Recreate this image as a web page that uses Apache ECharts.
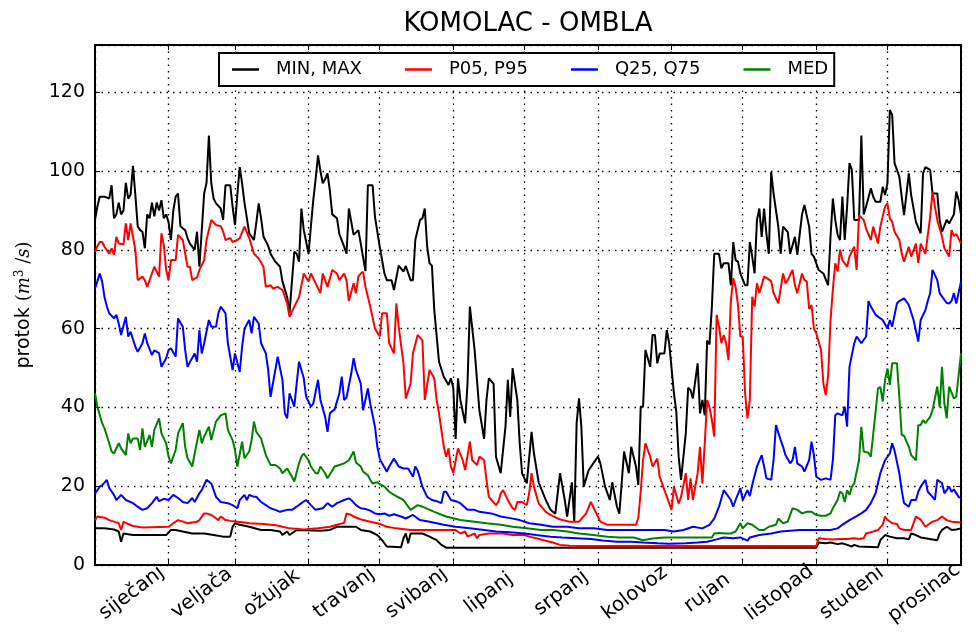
<!DOCTYPE html>
<html>
<head>
<meta charset="utf-8">
<title>KOMOLAC - OMBLA</title>
<script src="https://cdn.jsdelivr.net/npm/echarts@6/dist/echarts.min.js"></script>
<style>
  html, body { margin: 0; padding: 0; background: #fff; }
  #chart { width: 976px; height: 636px; }
</style>
</head>
<body>
<div id="chart"></div>
<script>
// Daily discharge statistics, [day of year, m3/s]
const maxFlow = [[0,87.6],[1,91],[2,93.5],[4,93.5],[6,93],[7,96.4],[8,88],[9,89],[10,92],[11,89],[12,90],[13,97],[14,93],[15,94],[16,101.3],[17,94],[18,86],[19,85],[20,84.6],[21,80.4],[22,89],[23,88],[24,92],[25,88.5],[26,92],[27,90],[28,92.6],[29,88],[30,89],[31,87],[32,82.5],[33,90],[34,93.5],[35,94.3],[36,86],[38,85],[39,83],[40,81.6],[42,80],[43,84.6],[44,75.7],[45,85],[46,94.3],[47,97],[48,109],[49,96.9],[50,93],[51,91.8],[53,90.5],[54,87.6],[55,96.4],[57,96.4],[58,91],[59,86.3],[60,94],[61,101],[62,96.9],[63,92],[65,84.2],[67,82.5],[68,87],[69,91.8],[70,88],[71,83.4],[73,81],[74,79],[76,77],[78,75.7],[79,72],[81,68],[82,64],[83,72],[84,79.5],[85,79],[86,77],[87,90.5],[88,85],[90,79],[91,86],[92,92.6],[93,98],[94,104],[95,100],[96,96.9],[97,98],[98,99.4],[99,95],[100,89],[102,88],[103,84],[105,80.8],[106,79],[107,90.5],[109,83.8],[111,85],[112,81.6],[114,74.6],[115,96.4],[117,96.4],[118,88.4],[120,80.8],[122,74],[123,72.3],[125,72.3],[126,69.8],[128,76],[130,74.5],[131,75.9],[133,72.3],[134,72.3],[135,82.5],[137,87.6],[138,88],[139,90.5],[140,80.8],[141,76.6],[142,76],[143,64.7],[145,51.6],[147,47.8],[149,45.7],[150,47.4],[151,45],[152,32],[153,47.4],[154,41.9],[156,36],[157,46],[158,65.6],[160,54.6],[162,39.3],[164,32],[165,41.9],[166,47.4],[168,46],[169,27.5],[171,23.3],[173,35.1],[174,47],[175,37.6],[176,50],[178,41.9],[179,30.9],[180,23.3],[182,20.7],[184,33.8],[185,28.3],[187,21],[190,16.5],[192,14],[194,13],[196,23.3],[198,16.5],[199,12.3],[201,21],[202,11],[203,36],[204,42.3],[205,35],[206,19.9],[208,24],[210,25.8],[212,27.5],[213,25.8],[215,19.9],[217,16.5],[218,21],[220,14.8],[221,13],[223,28.8],[225,23.3],[226,30],[228,25],[229,20.3],[230,40.2],[231,40.2],[232,54.6],[234,50.3],[235,58.4],[236,58.4],[237,51.2],[238,53.7],[240,53.7],[241,59.6],[242,56.3],[244,43.6],[245,39],[246,27.5],[247,21.6],[249,33.4],[250,45],[251,44.4],[252,42.3],[254,51.2],[255,38.5],[256,41.9],[257,38],[258,57],[259,56],[260,65.6],[261,79],[263,79],[264,75.3],[265,76.6],[267,76.6],[268,71],[269,82],[270,77.4],[271,77],[272,74],[274,71],[275,71],[276,82],[277,78.3],[278,74],[279,87.6],[280,90.5],[281,83.3],[282,90.5],[283,84],[284,79],[285,99.8],[286,94.3],[288,85.9],[289,79],[290,85.9],[292,84.5],[293,79],[295,83.3],[296,78.7],[298,89],[299,91.4],[301,85.9],[302,79],[303,78.3],[305,74.9],[307,74],[309,71],[310,83.3],[311,93],[312,87.6],[313,83.8],[314,82.5],[315,93.5],[316,82.5],[317,91],[318,102],[319,100.3],[320,87.6],[322,87.6],[323,109],[324,89],[325,91],[327,95.6],[328,93.5],[329,92.2],[331,92.2],[332,96],[333,93.9],[334,96.9],[335,115.5],[336,114.2],[337,102],[339,98.6],[340,93.5],[341,88.8],[343,99.4],[344,93.9],[346,87.1],[348,84.2],[349,99.4],[350,101],[352,100.3],[353,94.3],[355,94.3],[356,87.6],[357,84.6],[359,87.6],[360,86.7],[362,89],[363,94.8],[364,92.6],[365,89]];

const p95Flow = [[0,79.5],[1,81],[2,82],[3,82],[4,80.8],[6,79],[7,80.4],[8,78.7],[9,83.3],[10,81.6],[12,81.4],[13,86.7],[14,82.5],[15,86.7],[17,80],[18,72.3],[20,73.2],[21,72.3],[22,70.6],[24,74],[25,75.7],[27,73.2],[28,84.2],[29,81.2],[30,74.9],[31,72.3],[32,77.4],[34,77.4],[35,83.8],[37,82.5],[39,75.7],[40,75.7],[41,72.3],[43,73],[44,74.9],[46,77.4],[47,82.5],[49,87.6],[51,86.3],[53,86],[54,84.6],[55,82.5],[57,83],[58,82],[60,82.5],[61,83],[63,85.9],[65,83],[67,79],[69,77.8],[71,75.7],[72,70.6],[74,71],[75,70.2],[77,70.6],[79,69.8],[81,66.4],[82,63],[84,65.6],[86,68],[88,74],[90,72],[91,74],[93,71.5],[95,69],[96,74],[98,70.6],[100,74.9],[102,74],[103,72.3],[105,74],[106,72.3],[107,67],[109,71.5],[110,69],[111,73.2],[112,74],[113,74.4],[114,70.6],[116,65.6],[118,60],[120,58],[121,63.9],[123,63.9],[124,56.3],[126,53.7],[127,66.4],[128,60.5],[130,51.2],[131,42.3],[133,46],[134,53.7],[136,58.4],[138,57],[139,41.9],[141,49.5],[143,47.4],[144,41.9],[145,38.5],[147,30],[148,27.5],[149,29.6],[150,25],[151,23.3],[153,29.6],[155,26.6],[156,24.1],[158,31.3],[159,26.6],[161,25.4],[162,27.5],[164,26.6],[165,21.6],[166,17.3],[169,15.2],[170,16],[171,18.2],[172,19],[174,16.5],[176,14.4],[177,14],[178,16],[180,16],[182,15.2],[183,18.2],[184,23.3],[185,19.9],[187,15.6],[190,13.5],[192,12.7],[195,11.8],[197,11.4],[200,11],[204,11],[207,13.1],[209,16],[211,13.5],[213,11],[216,10.2],[228,10.2],[229,12],[230,18.6],[231,26.6],[232,30.9],[234,27.5],[235,25],[237,27],[238,22.4],[240,19],[243,14],[244,19.9],[246,15.6],[247,17.3],[249,23.3],[250,16.5],[251,22],[252,16.5],[254,23.3],[255,30],[256,20.7],[257,30.9],[258,41.9],[259,40],[260,36.8],[261,32.6],[262,63.5],[263,60.5],[264,56.3],[265,58.4],[266,56.3],[267,52],[268,67],[269,72.8],[270,70.6],[271,66],[272,58],[273,58],[274,43.6],[275,37.2],[276,41.9],[277,68.1],[278,65.6],[279,71.5],[280,69],[282,73.2],[284,72.5],[285,72],[286,69],[288,66.4],[290,74],[291,71.5],[292,72.3],[294,74.9],[295,71],[296,69],[298,74],[299,72.3],[300,72],[301,65],[302,66],[303,60],[304,58.8],[306,54.6],[307,46],[308,43.1],[309,48],[310,62],[311,70],[312,76.6],[313,74.5],[314,80],[315,77.4],[317,75.7],[318,78.3],[320,80.8],[321,74.9],[322,88.8],[324,87.6],[325,85.4],[327,82.5],[328,85.9],[330,81.6],[331,85.9],[333,91],[334,91.8],[335,88],[336,87.1],[337,84.6],[339,82.5],[340,79.1],[341,77],[343,80.8],[344,78.3],[346,81.6],[347,76.6],[348,81.6],[350,79],[352,88.4],[353,94.8],[354,91],[355,87.6],[357,83.3],[358,80.4],[360,78.3],[361,85],[362,83.5],[363,84],[365,81.6]];

const q75Flow = [[0,70.2],[1,72],[2,74],[3,72],[4,68],[5,65.6],[6,63.9],[8,62.6],[9,63.5],[10,61.3],[11,58.4],[13,63],[14,58],[15,59.2],[17,55.4],[18,54.1],[20,56.3],[21,58.8],[22,56.3],[24,53.3],[25,54.5],[27,53.8],[28,50.3],[30,52.5],[31,54.6],[32,55],[34,52.9],[35,62.6],[37,60.5],[38,54.6],[39,50.3],[40,51.5],[42,53.7],[43,51.6],[44,59.6],[45,53.7],[46,56.3],[48,62.2],[49,60.5],[51,60.5],[52,63.9],[53,65.6],[55,63.9],[56,56.3],[58,49.5],[59,53.7],[61,49],[62,55.4],[63,60],[65,62.2],[66,58.8],[67,63],[69,61.3],[70,56.3],[72,53.7],[73,49.5],[74,42.7],[76,49.5],[77,52.9],[79,47],[80,38.5],[81,37.2],[82,43.6],[84,40.2],[85,46.1],[86,51.6],[88,47.4],[89,42.7],[91,40.2],[92,41],[94,47],[95,41.9],[97,37.6],[98,33.8],[99,38.5],[101,39.5],[103,43.6],[104,47.8],[105,41.9],[106,42.5],[108,48.6],[109,52.5],[110,49.5],[112,46.1],[113,39.3],[115,44.8],[116,41],[118,35.1],[119,30],[120,27],[121,25.8],[123,23.7],[124,25],[126,27],[128,25],[130,24.5],[132,24.5],[134,22.4],[135,25],[136,24],[138,19.9],[140,17.3],[142,16.5],[144,16.2],[146,15.7],[147,18.6],[148,18.6],[150,16.5],[152,16.2],[154,15.7],[157,14],[160,14],[162,13.5],[167,13.1],[171,12.3],[175,11.9],[179,11.4],[183,10.6],[188,10.2],[193,9.7],[199,9.7],[204,9.3],[210,9.3],[216,8.9],[240,8.9],[244,8.5],[248,8.9],[252,9.7],[256,9.3],[259,10.2],[261,11.8],[263,14.8],[265,19],[266,18.2],[268,16.5],[269,14.8],[270,16.5],[272,19.5],[273,16.5],[275,19],[276,17.5],[277,20.3],[279,25],[281,27.9],[282,25],[283,22],[285,21.6],[286,26.6],[287,35.5],[289,31.7],[290,30],[291,27.9],[293,25.8],[294,26.6],[295,30],[296,25.8],[298,25],[299,23.7],[301,26.6],[302,31.3],[303,27.9],[304,22.4],[306,21.6],[308,22],[310,21.6],[311,26.6],[312,38],[313,38.5],[315,38],[316,40.2],[317,35.1],[318,50.3],[320,56.3],[321,58],[323,56.3],[325,58],[326,67],[327,65.6],[329,63.5],[332,62.2],[334,60],[335,62.2],[336,60.5],[338,66.4],[339,67],[341,67.7],[343,66],[345,62.2],[347,56.7],[348,62.2],[350,64.7],[351,67],[352,69],[353,74.9],[355,72.3],[356,69],[358,67.3],[359,66.5],[360,66.4],[361,67],[362,69],[363,66.4],[365,71.9]];

const medFlow = [[0,43.6],[1,40.2],[3,36],[4,34.7],[6,30.9],[7,28.8],[8,28.3],[10,30.9],[11,29.6],[13,27.9],[14,33.4],[15,30.9],[16,32.1],[18,32.1],[19,29.2],[20,34.7],[21,30],[23,33],[24,30],[25,34.3],[27,37.2],[28,33.4],[30,30.9],[31,27.5],[32,25.8],[34,29.2],[35,33.4],[37,36],[38,30],[39,27.1],[41,25],[42,28.3],[44,34.3],[45,30.9],[46,32.6],[48,35.1],[49,31.7],[51,36.4],[52,37.2],[53,38],[55,38.5],[56,34.3],[58,31.7],[59,29.2],[60,25],[62,31.3],[63,27.1],[65,28.8],[66,31.7],[67,36.4],[68,33.8],[70,32.1],[71,30],[72,27.9],[74,25.4],[76,25.4],[78,24.5],[79,23.3],[81,24.5],[83,22.4],[84,21.2],[86,25.8],[87,27.5],[88,28.3],[90,26.6],[91,25],[93,23.3],[94,23.3],[95,25],[97,23.3],[98,22],[100,24],[101,25],[103,25.4],[105,25.8],[107,26.6],[109,28.8],[110,26],[112,25],[113,23.7],[115,22.8],[116,21.6],[117,20.7],[119,21],[120,20.5],[122,19.9],[124,18.6],[126,17.8],[130,16.5],[133,14],[136,15.2],[138,14.8],[143,13.5],[148,12.3],[154,11.4],[160,11],[165,10.6],[171,10.2],[176,9.7],[182,9.3],[188,8.9],[193,8.9],[199,8.5],[204,8],[210,7.6],[216,7.2],[221,7],[227,7],[231,6.3],[235,6.7],[240,7],[260,7],[261,8],[263,8.1],[266,8],[268,8],[270,8.5],[272,10.6],[273,9.3],[275,10.6],[277,10.2],[280,8.9],[282,8.9],[284,9.7],[287,10.2],[288,11.8],[290,10.6],[292,11],[294,14.4],[296,14],[298,13.1],[300,13.5],[302,13.5],[304,12.7],[306,12.5],[308,12.5],[310,13.1],[311,14.4],[313,16.5],[314,18.6],[315,18.2],[316,16],[317,19],[318,17.8],[319,19.9],[320,20.7],[322,26.6],[323,35.1],[324,28.8],[326,28.5],[327,27.5],[329,38.9],[330,44.8],[331,45.2],[332,41.5],[333,47],[334,49.9],[335,45.7],[336,51.2],[338,51.2],[339,42.7],[340,33],[341,32.8],[343,30],[344,27.9],[346,26.6],[347,35.5],[348,35.5],[349,36.8],[350,36],[352,37.6],[353,39.3],[355,45.3],[356,40],[357,50.3],[358,41],[359,37.2],[360,45.3],[362,42.3],[363,42.7],[365,53.7]];

const q25Flow = [[0,18.2],[1,19],[2,19.9],[3,20.2],[5,21.6],[6,19.5],[8,17.8],[9,16.5],[11,17.8],[13,16.5],[16,15.7],[18,14.8],[20,14],[22,14.4],[24,15.7],[26,17.3],[27,16.2],[29,16.8],[31,16.5],[33,17.8],[35,17],[37,16],[39,15.7],[41,17],[42,16],[44,18.2],[45,19],[47,21.6],[49,20.7],[50,19],[51,17.3],[53,16],[56,15.7],[58,15.2],[60,14.4],[61,16.5],[63,17.8],[64,16.5],[65,17.8],[67,17.3],[68,17.3],[70,16],[72,15.2],[74,14.4],[76,14],[78,13.5],[81,14],[83,14],[85,14.8],[87,15.7],[89,16.5],[91,15.2],[93,14],[96,14.4],[98,15.7],[100,14.8],[102,15.7],[105,16.5],[107,16.9],[108,16.5],[110,15.2],[112,14.4],[114,14.2],[116,13.8],[118,13.1],[120,12.9],[122,13.1],[124,12.5],[126,12.9],[129,12.3],[131,11.8],[134,12.7],[137,11.4],[141,11],[147,10.2],[152,9.7],[158,9.3],[164,8.9],[169,8.5],[175,8.3],[181,8],[186,7.6],[192,7.2],[197,7],[203,6.8],[209,6.6],[214,6.2],[220,5.9],[226,5.9],[231,5.7],[237,5.5],[242,5.4],[249,5.5],[254,5.7],[258,5.9],[262,6.5],[265,7],[269,6.8],[272,7],[275,6.2],[276,7],[280,7.6],[285,8],[289,8.5],[293,8.7],[297,8.9],[310,8.9],[313,9.3],[315,10.2],[318,11.4],[321,12.4],[323,13.1],[325,14],[327,15.7],[329,18.2],[331,23.3],[333,26.6],[335,28.3],[336,30.9],[337,29],[339,23.3],[340,19],[341,15.7],[343,14.8],[344,16.5],[346,16.5],[347,18.6],[348,19.9],[350,21.6],[351,18.6],[353,17.3],[354,16.5],[355,21.6],[357,20.8],[358,18.2],[360,19.9],[361,18.6],[362,19.2],[364,17.3],[365,17]];

const p05Flow = [[0,11.4],[1,12.3],[4,12],[6,11.4],[8,11],[10,10.6],[11,8.9],[12,11],[14,10.4],[16,9.9],[18,9.7],[20,9.5],[31,9.7],[34,11],[35,11.4],[37,11],[39,10.6],[43,11],[44,11.4],[46,13.1],[47,13.1],[49,12.7],[50,12.3],[52,11.4],[53,12.3],[55,11.4],[57,11.2],[60,11],[63,10.8],[65,10.6],[71,10.4],[74,10.2],[77,10],[79,9.7],[82,9.3],[88,9],[94,9.3],[99,9.7],[102,10.2],[105,10.7],[106,13.1],[108,12.7],[109,12.3],[111,11.8],[113,11.4],[116,11],[119,10.6],[121,10.2],[123,9.7],[127,9.3],[133,8.9],[152,8.9],[154,8],[156,8.5],[157,7.2],[160,8],[161,6.8],[162,7.6],[166,8],[172,8],[176,7.6],[181,7.6],[183,7.2],[186,6.8],[189,6.3],[193,5.7],[196,5.1],[200,4.9],[204,4.8],[304,4.8],[305,6.8],[308,6.6],[311,6.5],[314,6.6],[317,6.6],[320,6.8],[322,6.6],[324,6.8],[325,8],[328,8.5],[330,8.9],[332,10.2],[333,12.3],[334,11.5],[336,10.6],[338,10.4],[339,9.3],[341,8.9],[344,8.9],[345,10.6],[346,12.3],[348,11.5],[349,10.6],[350,9.7],[352,10.6],[353,11],[355,11.4],[357,12.3],[359,11.4],[361,11],[365,10.8]];

const minFlow = [[0,9.3],[4,9.3],[8,9],[10,8.5],[11,5.9],[12,8],[16,7.6],[30,7.6],[32,8.9],[34,8.9],[37,8.5],[41,8],[46,8],[50,7.6],[54,7.2],[57,7.2],[58,9.7],[59,10.6],[61,10.2],[65,9.7],[70,8.9],[74,8.9],[78,8.5],[79,7.6],[81,8.5],[82,7.6],[85,8.9],[95,8.7],[99,8.9],[102,9.7],[110,9.7],[112,8.9],[116,8.5],[119,7.6],[121,6.3],[123,4.7],[129,4.5],[130,6.8],[131,8],[132,5.5],[133,8],[138,8],[141,7.2],[144,6.3],[146,5.1],[148,4.4],[304,4.4],[305,5.7],[308,5.5],[310,5.7],[313,5.3],[315,5.5],[317,5.1],[319,4.7],[320,5.1],[322,4.7],[330,4.5],[331,6.3],[333,7.6],[335,7.2],[338,6.8],[341,6.8],[343,6.5],[344,8],[346,7.6],[348,7],[350,6.8],[353,6.5],[355,6.3],[356,8],[357,8.9],[359,9.7],[361,8.9],[363,9],[365,9.3]];

const monthNames = ['siječanj','veljača','ožujak','travanj','svibanj','lipanj','srpanj','kolovoz','rujan','listopad','studeni','prosinac'];
const monthDays = [31,28,31,30,31,30,31,31,30,31,30,31];
const yTicks = [0, 20, 40, 60, 80, 100, 120];

// Half-day slots on a category axis: month names sit at mid-month,
// ticks and dotted grid lines sit at month ends.
const halfDaySlots = [];
const midLabel = {};
const monthEdge = {0: true};
let dayStart = 0;
monthDays.forEach((len, i) => {
  midLabel[2 * dayStart + len] = monthNames[i];
  dayStart += len;
  monthEdge[2 * dayStart] = true;
});
for (let i = 0; i <= 2 * dayStart; i++) halfDaySlots.push(String(i));

const FONT = 'DejaVu Sans';
const dotted = { color: '#000', width: 1.3, type: [1.5, 5] };

const chart = echarts.init(document.getElementById('chart'), null, { renderer: 'canvas' });

const lineSeries = (name, data, color) => ({
  name, type: 'line', data, xAxisIndex: 0, yAxisIndex: 0,
  symbol: 'none', showSymbol: false, smooth: false,
  lineStyle: { color, width: 2 }, itemStyle: { color },
  emphasis: { disabled: true }, silent: true
});

chart.setOption({
  animation: false,
  backgroundColor: '#fff',
  textStyle: { fontFamily: FONT, color: '#000' },
  title: {
    text: 'KOMOLAC - OMBLA',
    left: 523, top: 6, textAlign: 'center',
    textStyle: { fontFamily: FONT, fontSize: 26, fontWeight: 'normal', color: '#000' }
  },
  legend: {
    data: ['MIN, MAX', 'P05, P95', 'Q25, Q75', 'MED'],
    left: 219, top: 53,
    icon: 'rect',
    itemWidth: 27, itemHeight: 2.5, itemGap: 43,
    padding: [7, 6, 7, 13],
    borderColor: '#000', borderWidth: 2, borderRadius: 0,
    backgroundColor: '#fff',
    textStyle: { fontFamily: FONT, fontSize: 18, color: '#000', padding: [0, 0, 0, 12], lineHeight: 19 }
  },
  grid: {
    left: 95, right: 15, top: 45, bottom: 71,
    show: true, borderColor: '#000', borderWidth: 2, backgroundColor: 'transparent'
  },
  xAxis: [
    { type: 'value', min: 0, max: 365, show: false },
    {
      type: 'category', data: halfDaySlots, boundaryGap: false, position: 'bottom',
      axisLine: { show: false },
      axisTick: { show: true, inside: true, length: 5, interval: (i) => !!monthEdge[i], lineStyle: { color: '#000', width: 1 } },
      splitLine: { show: true, interval: (i) => !!monthEdge[i], lineStyle: dotted },
      axisLabel: {
        interval: (i) => midLabel[i] !== undefined,
        formatter: (v, i) => midLabel[i] || '',
        rotate: 37, align: 'center', verticalAlign: 'middle', margin: 28,
        fontFamily: FONT, fontSize: 20, color: '#000'
      }
    },
    {
      type: 'category', data: halfDaySlots, boundaryGap: false, position: 'top',
      axisLine: { show: false },
      axisTick: { show: true, inside: true, length: 5, interval: (i) => !!monthEdge[i], lineStyle: { color: '#000', width: 1 } },
      splitLine: { show: false }, axisLabel: { show: false }
    }
  ],
  yAxis: [
    {
      type: 'value', min: yTicks[0], max: 132, interval: yTicks[1] - yTicks[0], position: 'left',
      axisLine: { show: false },
      axisTick: { show: true, inside: true, length: 5, lineStyle: { color: '#000', width: 1 } },
      splitLine: { show: true, lineStyle: dotted },
      axisLabel: { showMaxLabel: false, margin: 10, fontFamily: FONT, fontSize: 19, color: '#000' },
      name: '{a|protok }{b|(}{c|m}{d|3}{b| /}{c|s}{b|)}',
      nameLocation: 'middle', nameRotate: 90, nameGap: 60,
      nameTextStyle: {
        rich: {
          a: { fontFamily: FONT, fontSize: 19, color: '#000' },
          b: { fontFamily: 'DejaVu Serif', fontSize: 18, color: '#000' },
          c: { fontFamily: 'DejaVu Serif', fontStyle: 'italic', fontSize: 18, color: '#000' },
          d: { fontFamily: 'DejaVu Serif', fontSize: 12, color: '#000', padding: [0, 0, 9, 0] }
        }
      }
    },
    {
      type: 'value', min: yTicks[0], max: 132, interval: yTicks[1] - yTicks[0], position: 'right',
      axisLine: { show: false },
      axisTick: { show: true, inside: true, length: 5, lineStyle: { color: '#000', width: 1 } },
      splitLine: { show: false }, axisLabel: { show: false }
    }
  ],
  series: [
    lineSeries('MIN, MAX', minFlow, '#000000'),
    lineSeries('MIN, MAX', maxFlow, '#000000'),
    lineSeries('P05, P95', p05Flow, '#ff0000'),
    lineSeries('P05, P95', p95Flow, '#ff0000'),
    lineSeries('Q25, Q75', q25Flow, '#0000ff'),
    lineSeries('Q25, Q75', q75Flow, '#0000ff'),
    lineSeries('MED', medFlow, '#008000')
  ]
});
</script>
</body>
</html>
